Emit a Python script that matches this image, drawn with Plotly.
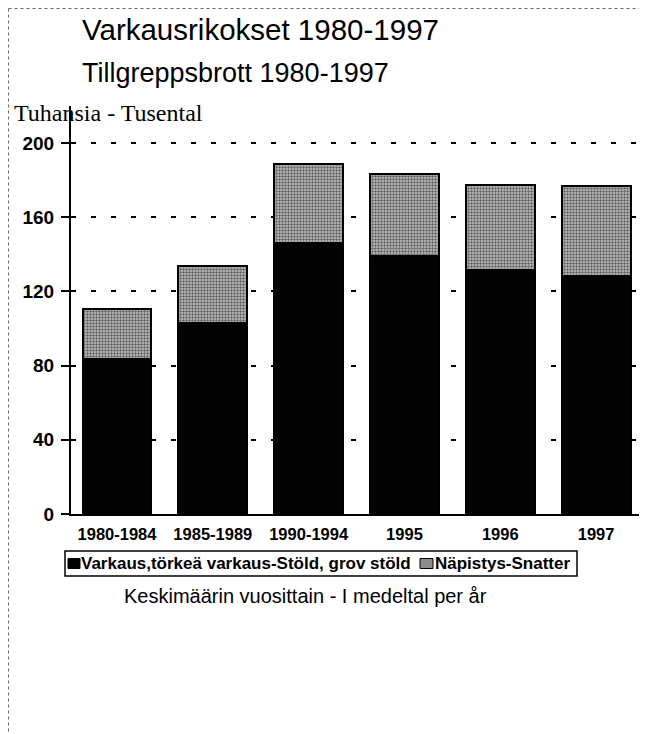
import plotly.graph_objects as go

categories = ["1980-1984", "1985-1989", "1990-1994", "1995", "1996", "1997"]
varkaus = [83.5, 103, 146, 139, 131.5, 128.5]
napistys = [27, 30.7, 42.7, 44.6, 45.8, 48.3]
y_ticks = [0, 40, 80, 120, 160, 200]
series_names = ["Varkaus,törkeä varkaus-Stöld, grov stöld", "Näpistys-Snatter"]

SANS = "Liberation Sans, Arial, sans-serif"
SERIF = "Liberation Serif, Times New Roman, serif"

OFF = 8  # body margin of the html page
# plot area in page pixels
PL, PR, PT, PB = 71, 645, 106, 514
PW, PH = PR - PL, PB - PT
FIG_W, FIG_H = 647 - OFF, 734 - OFF


def px(x):
    return (x - PL) / PW


def py(y):
    return (PB - y) / PH


PATTERN = dict(shape=".", fgcolor="#000000", bgcolor="#c4c4c4", size=3, solidity=0.5)

fig = go.Figure()
fig.add_trace(go.Bar(
    x=list(range(len(categories))), y=varkaus, name=series_names[0],
    marker=dict(color="#030303", line=dict(color="black", width=2)),
    width=0.72, showlegend=False,
))
fig.add_trace(go.Bar(
    x=list(range(len(categories))), y=napistys, name=series_names[1],
    marker=dict(color="#c4c4c4", line=dict(color="black", width=2), pattern=PATTERN),
    width=0.72, showlegend=False,
))

# legend box drawn by hand, to keep the compact look of the original
LG_T, LG_B, LG_L, LG_R = 551, 576, 65, 577
LG_MID = (LG_T + LG_B) / 2
legend_shapes = [
    dict(type="rect", xref="paper", yref="paper", x0=px(LG_L), x1=px(LG_R), y0=py(LG_B), y1=py(LG_T),
         line=dict(color="black", width=1.5), fillcolor="white", layer="above"),
    dict(type="rect", xref="paper", yref="paper", x0=px(68), x1=px(80), y0=py(LG_MID + 5), y1=py(LG_MID - 5),
         line=dict(color="black", width=1), fillcolor="black", layer="above"),
    dict(type="rect", xref="paper", yref="paper", x0=px(420), x1=px(433), y0=py(LG_MID + 5), y1=py(LG_MID - 5),
         line=dict(color="black", width=1), fillcolor="#8c8c8c", layer="above"),
]
legend_texts = [
    dict(text=series_names[0], xref="paper", yref="paper", x=px(79), y=py(LG_MID),
         xanchor="left", yanchor="middle", showarrow=False,
         font=dict(family=SANS, size=17, color="black", weight=700)),
    dict(text=series_names[1], xref="paper", yref="paper", x=px(433), y=py(LG_MID),
         xanchor="left", yanchor="middle", showarrow=False,
         font=dict(family=SANS, size=17, color="black", weight=700)),
]

fig.update_layout(
    barmode="stack",
    width=FIG_W, height=FIG_H,
    margin=dict(l=PL - OFF, r=647 - PR, t=PT - OFF, b=734 - PB),
    paper_bgcolor="white", plot_bgcolor="white",
    showlegend=False,
    xaxis=dict(
        range=[-0.48, 5.51],
        tickmode="array", tickvals=list(range(len(categories))), ticktext=categories,
        showgrid=False, zeroline=False, showline=True, linecolor="black", linewidth=2,
        ticks="", ticklabelstandoff=4,
        tickfont=dict(family=SANS, size=16.5, color="black", weight=700),
        fixedrange=True,
    ),
    yaxis=dict(
        range=[0, 220], tickmode="array", tickvals=y_ticks,
        showgrid=True, gridcolor="black", gridwidth=2, griddash="5px,15px",
        zeroline=False, showline=True, linecolor="black", linewidth=2,
        ticks="outside", ticklen=8, tickwidth=2, tickcolor="black",
        ticklabelstandoff=3,
        tickfont=dict(family=SANS, size=19, color="black", weight=700),
        fixedrange=True,
    ),
    annotations=[
        dict(text="Varkausrikokset 1980-1997", xref="paper", yref="paper",
             x=px(80), y=py(29.5), xanchor="left", yanchor="middle", showarrow=False,
             font=dict(family=SANS, size=29.5, color="black")),
        dict(text="Tillgreppsbrott 1980-1997", xref="paper", yref="paper",
             x=px(80), y=py(73), xanchor="left", yanchor="middle", showarrow=False,
             font=dict(family=SANS, size=27, color="black")),
        dict(text="Tuhansia - Tusental", xref="paper", yref="paper",
             x=px(12), y=py(113), xanchor="left", yanchor="middle", showarrow=False,
             font=dict(family=SERIF, size=24, color="black")),
        dict(text="Keskimäärin vuosittain - I medeltal per år", xref="paper", yref="paper",
             x=px(122), y=py(596), xanchor="left", yanchor="middle", showarrow=False,
             font=dict(family=SANS, size=20, color="black")),
    ] + legend_texts,
    shapes=[
        dict(type="line", xref="paper", yref="paper", x0=px(OFF + 0.5), x1=px(647), y0=py(OFF + 0.5), y1=py(OFF + 0.5),
             line=dict(color="#666", width=1, dash="dot")),
        dict(type="line", xref="paper", yref="paper", x0=px(OFF + 0.5), x1=px(OFF + 0.5), y0=py(OFF + 0.5), y1=py(734),
             line=dict(color="#666", width=1, dash="dot")),
    ] + legend_shapes,
)

fig.write_html("out.html")
